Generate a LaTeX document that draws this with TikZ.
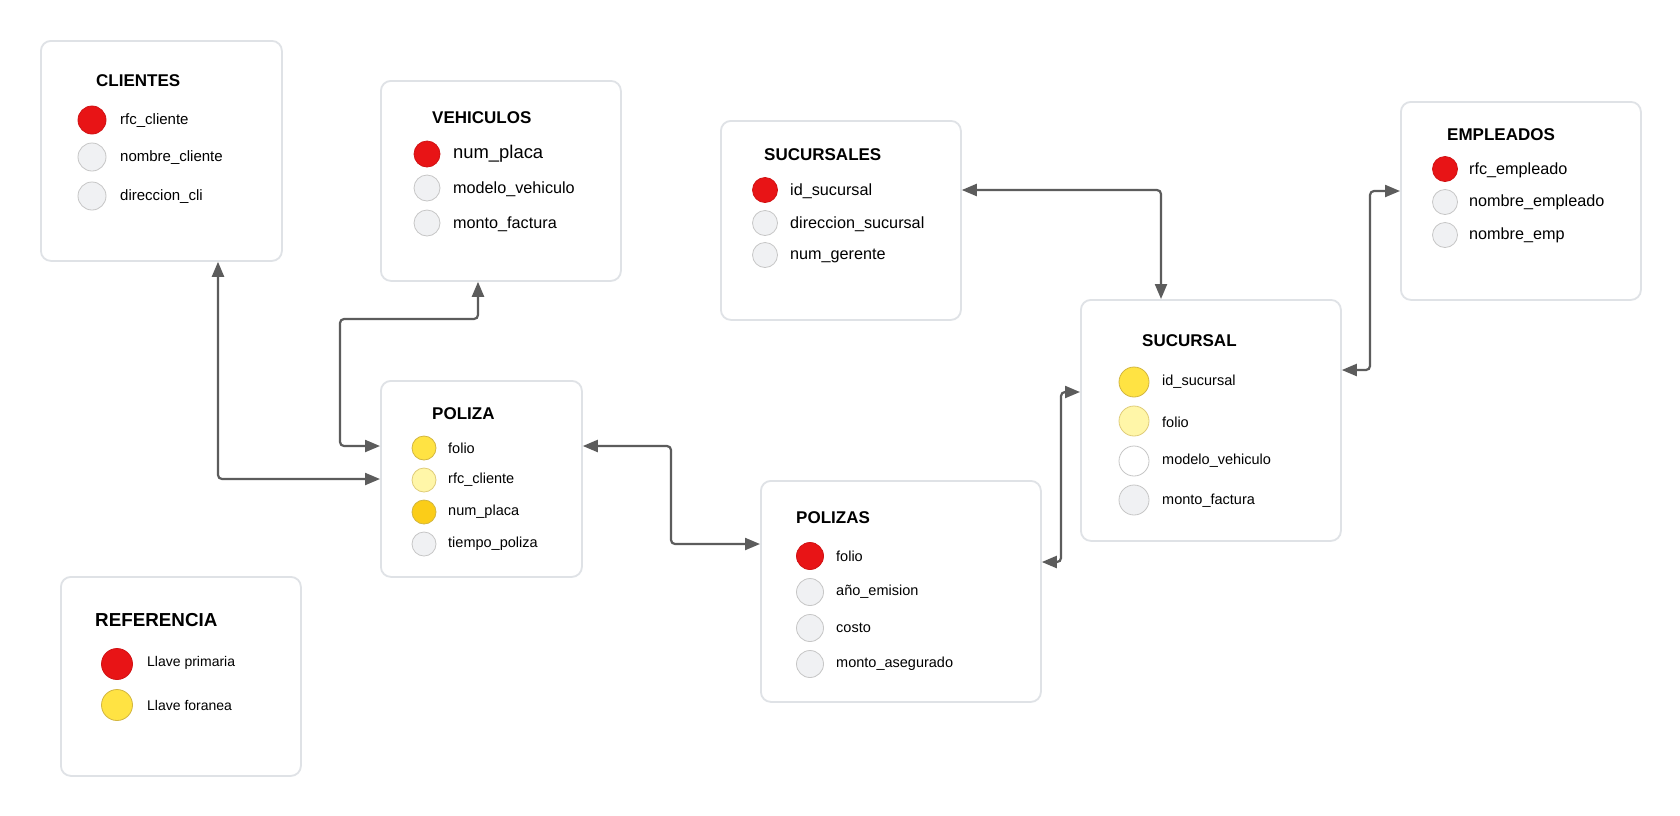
\documentclass[tikz,border=0pt]{standalone}
\usepackage{fontspec}
\setmainfont{Liberation Sans}
\usetikzlibrary{arrows.meta,calc}
\definecolor{pk}{HTML}{E81416}
\definecolor{fk}{HTML}{FFE343}
\definecolor{fkl}{HTML}{FFF6A8}
\definecolor{fkg}{HTML}{FBCD18}
\definecolor{att}{HTML}{F0F1F3}
\definecolor{dotline}{HTML}{C6C6C6}
\definecolor{fkline}{HTML}{D2B640}
\definecolor{boxline}{HTML}{DFE2E6}
\definecolor{connc}{HTML}{5C5C5C}
\begin{document}
\begin{tikzpicture}[x=1pt,y=-1pt,
  tbl/.style={draw=boxline, line width=1.8pt, rounded corners=10pt, fill=white, inner sep=0pt, anchor=north west},
  ttl/.style={anchor=west, inner sep=0pt, font=\fontsize{17}{20}\selectfont\bfseries},
  fld/.style={anchor=west, inner sep=0pt, yshift=-2pt, font=\fontsize{15}{18}\selectfont},
  dot/.style={circle, inner sep=0pt, draw=dotline, line width=0.8pt, fill=att},
  pkdot/.style={dot, fill=pk, draw=pk!90!black},
  fkdot/.style={dot, fill=fk, draw=fkline},
  conn/.style={draw=connc, line width=2.2pt, rounded corners=4pt, {Triangle[length=15pt,width=12pt]}-{Triangle[length=15pt,width=12pt]}}
]
\useasboundingbox[fill=white] (0,0) rectangle (1680,815);

% ---------- CLIENTES
\node[tbl, minimum width=241pt, minimum height=220pt] (clientes) at (40,40) {};
\node[ttl] (clientesT) at (96,81) {CLIENTES};
\node[pkdot, minimum size=28pt] (c1d) at (92,120) {};
\node[fld] (c1) at (120,119) {rfc\_cliente};
\node[dot, minimum size=28pt] (c2d) at (92,157) {};
\node[fld] (c2) at (120,156) {nombre\_cliente};
\node[dot, minimum size=28pt] (c3d) at (92,196) {};
\node[fld] (c3) at (120,195) {direccion\_cli};

% ---------- VEHICULOS
\node[tbl, minimum width=240pt, minimum height=200pt] (vehiculos) at (380,80) {};
\node[ttl] (vehiculosT) at (432,118) {VEHICULOS};
\node[pkdot, minimum size=26pt] (v1d) at (427,154) {};
\node[fld, font=\fontsize{18.4}{21}\selectfont] (v1) at (453,152) {num\_placa};
\node[dot, minimum size=26pt] (v2d) at (427,188) {};
\node[fld, font=\fontsize{16.2}{19}\selectfont] (v2) at (453,187) {modelo\_vehiculo};
\node[dot, minimum size=26pt] (v3d) at (427,223) {};
\node[fld, font=\fontsize{16.2}{19}\selectfont] (v3) at (453,222) {monto\_factura};

% ---------- SUCURSALES
\node[tbl, minimum width=240pt, minimum height=199pt] (sucursales) at (720,120) {};
\node[ttl] (sucursalesT) at (764,155) {SUCURSALES};
\node[pkdot, minimum size=25pt] (s1d) at (765,190) {};
\node[fld, font=\fontsize{16.2}{19}\selectfont] (s1) at (790,189) {id\_sucursal};
\node[dot, minimum size=25pt] (s2d) at (765,223) {};
\node[fld, font=\fontsize{16.2}{19}\selectfont] (s2) at (790,222) {direccion\_sucursal};
\node[dot, minimum size=25pt] (s3d) at (765,255) {};
\node[fld, font=\fontsize{16.2}{19}\selectfont] (s3) at (790,254) {num\_gerente};

% ---------- EMPLEADOS
\node[tbl, minimum width=240pt, minimum height=198pt] (empleados) at (1400,101) {};
\node[ttl] (empleadosT) at (1447,135) {EMPLEADOS};
\node[pkdot, minimum size=25pt] (e1d) at (1445,169) {};
\node[fld, font=\fontsize{16.2}{19}\selectfont] (e1) at (1469,168) {rfc\_empleado};
\node[dot, minimum size=25pt] (e2d) at (1445,202) {};
\node[fld, font=\fontsize{16.2}{19}\selectfont] (e2) at (1469,200) {nombre\_empleado};
\node[dot, minimum size=25pt] (e3d) at (1445,235) {};
\node[fld, font=\fontsize{16.2}{19}\selectfont] (e3) at (1469,233) {nombre\_emp};

% ---------- SUCURSAL
\node[tbl, minimum width=260pt, minimum height=241pt] (sucursal) at (1080,299) {};
\node[ttl] (sucursalT) at (1142,341) {SUCURSAL};
\node[fkdot, minimum size=30pt] (u1d) at (1134,382) {};
\node[fld, font=\fontsize{14.5}{17}\selectfont] (u1) at (1162,380) {id\_sucursal};
\node[dot, fill=fkl, draw=fkline!70, minimum size=30pt] (u2d) at (1134,421) {};
\node[fld, font=\fontsize{14.5}{17}\selectfont] (u2) at (1162,420) {folio};
\node[dot, fill=white, minimum size=30pt] (u3d) at (1134,461) {};
\node[fld, font=\fontsize{14.5}{17}\selectfont] (u3) at (1162,459) {modelo\_vehiculo};
\node[dot, minimum size=30pt] (u4d) at (1134,500) {};
\node[fld, font=\fontsize{14.5}{17}\selectfont] (u4) at (1162,499) {monto\_factura};

% ---------- POLIZA
\node[tbl, minimum width=201pt, minimum height=196pt] (poliza) at (380,380) {};
\node[ttl] (polizaT) at (432,414) {POLIZA};
\node[fkdot, minimum size=24pt] (p1d) at (424,448) {};
\node[fld, font=\fontsize{14.5}{17}\selectfont] (p1) at (448,446) {folio};
\node[dot, fill=fkl, draw=fkline!70, minimum size=24pt] (p2d) at (424,480) {};
\node[fld, font=\fontsize{14.5}{17}\selectfont] (p2) at (448,478) {rfc\_cliente};
\node[dot, fill=fkg, draw=fkline, minimum size=24pt] (p3d) at (424,512) {};
\node[fld, font=\fontsize{14.5}{17}\selectfont] (p3) at (448,510) {num\_placa};
\node[dot, minimum size=24pt] (p4d) at (424,544) {};
\node[fld, font=\fontsize{14.5}{17}\selectfont] (p4) at (448,542) {tiempo\_poliza};

% ---------- POLIZAS
\node[tbl, minimum width=280pt, minimum height=221pt] (polizas) at (760,480) {};
\node[ttl] (polizasT) at (796,518) {POLIZAS};
\node[pkdot, minimum size=27pt] (q1d) at (810,556) {};
\node[fld, font=\fontsize{14.5}{17}\selectfont] (q1) at (836,554) {folio};
\node[dot, minimum size=27pt] (q2d) at (810,592) {};
\node[fld, font=\fontsize{14.5}{17}\selectfont] (q2) at (836,590) {año\_emision};
\node[dot, minimum size=27pt] (q3d) at (810,628) {};
\node[fld, font=\fontsize{14.5}{17}\selectfont] (q3) at (836,626) {costo};
\node[dot, minimum size=27pt] (q4d) at (810,664) {};
\node[fld, font=\fontsize{14.5}{17}\selectfont] (q4) at (836,662) {monto\_asegurado};

% ---------- REFERENCIA
\node[tbl, minimum width=240pt, minimum height=199pt] (referencia) at (60,576) {};
\node[ttl, font=\fontsize{18.8}{22}\selectfont\bfseries] (referenciaT) at (95,620) {REFERENCIA};
\node[pkdot, minimum size=31pt] (r1d) at (117,664) {};
\node[fld, font=\fontsize{14}{17}\selectfont] (r1) at (147,661) {Llave primaria};
\node[fkdot, minimum size=31pt] (r2d) at (117,705) {};
\node[fld, font=\fontsize{14}{17}\selectfont] (r2) at (147,703) {Llave foranea};

% ---------- connectors
\draw[conn] (clientes.south -| 218,0) -- (218,479) -- (poliza.west |- 0,479);
\draw[conn] (vehiculos.south -| 478,0) -- (478,319) -- (340,319) -- (340,446) -- (poliza.west |- 0,446);
\draw[conn] (poliza.east |- 0,446) -- (671,446) -- (671,544) -- (polizas.west |- 0,544);
\draw[conn] (polizas.east |- 0,562) -- (1061,562) -- (1061,392) -- (sucursal.west |- 0,392);
\draw[conn] (sucursales.east |- 0,190) -- (1161,190) -- (sucursal.north -| 1161,0);
\draw[conn] (sucursal.east |- 0,370) -- (1370,370) -- (1370,191) -- (empleados.west |- 0,191);
\end{tikzpicture}
\end{document}
